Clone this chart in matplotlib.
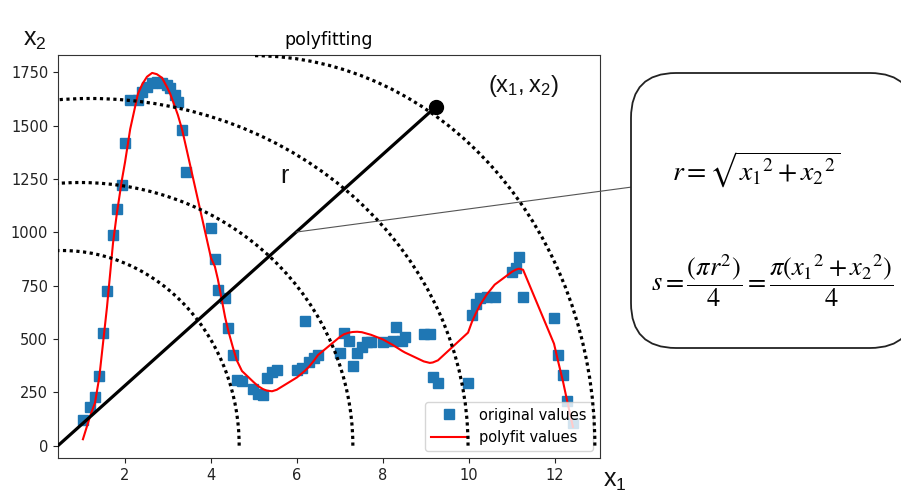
import matplotlib
matplotlib.use("Agg")
import matplotlib.pyplot as plt
from matplotlib.patches import Arc, FancyBboxPatch
import numpy as np

x_vals = [1.02, 1.19, 1.30, 1.40, 1.49, 1.58, 1.72, 1.81, 1.93, 2.00,
          2.12, 2.30, 2.40, 2.51, 2.63, 2.74, 2.86, 2.98, 3.05, 3.16,
          3.23, 3.33, 3.42, 4.00, 4.09, 4.16, 4.33, 4.40, 4.51, 4.60,
          4.72, 4.98, 5.09, 5.21, 5.30, 5.42, 5.53, 6.00, 6.12, 6.19,
          6.28, 6.40, 6.49, 7.00, 7.09, 7.21, 7.30, 7.40, 7.51, 7.63,
          7.72, 8.00, 8.23, 8.30, 8.44, 8.51, 8.95, 9.09, 9.16, 9.28,
          9.98, 10.07, 10.16, 10.26, 10.42, 10.60, 11.00, 11.09, 11.16, 11.26,
          11.98, 12.07, 12.19, 12.28, 12.42]
original = [120, 182, 228, 327, 529, 726, 988, 1110, 1223, 1420,
            1621, 1621, 1659, 1682, 1701, 1706, 1701, 1692, 1677, 1645,
            1612, 1481, 1284, 1020, 876, 730, 692, 552, 425, 308,
            303, 267, 243, 238, 318, 346, 355, 355, 364, 585,
            393, 411, 425, 435, 529, 491, 374, 435, 463, 486,
            486, 486, 491, 557, 491, 510, 524, 524, 322, 294,
            294, 614, 665, 693, 698, 698, 815, 834, 885, 698,
            599, 425, 332, 209, 106]
polyfit = [30, 140, 200, 320, 485, 650, 950, 1090, 1250, 1330,
           1485, 1650, 1695, 1730, 1748, 1742, 1725, 1680, 1650, 1590,
           1550, 1480, 1400, 880, 840, 780, 600, 540, 460, 400,
           350, 300, 280, 265, 258, 255, 262, 320, 340, 352,
           370, 400, 425, 510, 522, 530, 533, 534, 532, 525,
           520, 498, 472, 463, 445, 437, 395, 388, 390, 400,
           530, 580, 620, 660, 710, 755, 815, 825, 830, 825,
           478, 400, 300, 215, 88]

# dotted quarter ellipses: (center x, semi-axis x, semi-axis y, theta1, theta2)
arcs = [(0.535, 4.12, 915, -2, 180),
        (0.95, 6.35, 1234, -2, 180),
        (1.19, 8.79, 1628, -1, 180),
        (4.98, 7.95, 1829, 0, 90)]

x_start = 0.44
point_x1, point_x2 = 9.23, 1589
link_x = 5.98

fig = plt.figure(figsize=(9.01, 4.94), dpi=100)
ax = fig.add_axes([58/901, 36/494, 542/901, 403/494])

ax.plot(x_vals, original, 's', color='#1f77b4', markersize=7, label='original values')
ax.plot(x_vals, polyfit, '-', color='red', lw=1.5, label='polyfit values')

ax.set_xlim(0.44, 13.05)
ax.set_ylim(-58, 1832)
ax.set_xticks([2, 4, 6, 8, 10, 12])
ax.set_yticks([0, 250, 500, 750, 1000, 1250, 1500, 1750])
ax.tick_params(labelsize=10.5, colors='#222222')
for s in ax.spines.values():
    s.set_color('#333333')
ax.set_title('polyfitting', fontsize=12.5, pad=7)

for cx, a, b, t1, t2 in arcs:
    ax.add_patch(Arc((cx, 0), 2*a, 2*b, theta1=t1, theta2=t2, color='black',
                     lw=2.3, linestyle=(0, (1, 1.1)), zorder=6))

# radius line and point
ax.plot([x_start, point_x1], [0, point_x2], color='black', lw=2.3, zorder=5)
ax.plot([point_x1], [point_x2], 'o', color='black', markersize=10, zorder=7)

link_y = point_x2 * (link_x - x_start) / (point_x1 - x_start)
ax.annotate('', xy=(link_x, link_y), xycoords='data',
            xytext=(632/901, 1 - 187/494), textcoords='figure fraction',
            arrowprops=dict(arrowstyle='-', color='#555555', lw=0.8,
                            shrinkA=0, shrinkB=0), zorder=5)

ax.legend(loc='lower right', fontsize=10.5, handlelength=2.5)

lab = dict(family='Liberation Sans', color='#111111')
ax.text(5.6, 1230, 'r', fontsize=18, **lab)
ax.text(10.45, 1660, r'$\mathregular{(x_1,x_2)}$', fontsize=17, **lab)
fig.text(23/901, 1 - 46/494, r'$\mathregular{x_2}$', fontsize=18, **lab)
fig.text(603/901, 0.003, r'$\mathregular{x_1}$', fontsize=18, va='bottom', **lab)

# formula box
box = FancyBboxPatch((6.31, 1.46), 2.84, 2.75, boxstyle='round,pad=0,rounding_size=0.45',
                     transform=fig.dpi_scale_trans, facecolor='white',
                     edgecolor='#222222', lw=1.3)
fig.patches.append(box)
box.set_figure(fig)

fig.text(672/901, 1 - 170/494, r'$r=\sqrt{x_1{}^2+x_2{}^2}$', fontsize=20,
         math_fontfamily='stix', va='center', ha='left')
fig.text(651/901, 1 - 281/494,
         r'$s=\dfrac{(\pi r^2)}{4}=\dfrac{\pi(x_1{}^2+x_2{}^2)}{4}$',
         fontsize=19, math_fontfamily='stix', va='center', ha='left')

fig.savefig('out.png', dpi=100)
